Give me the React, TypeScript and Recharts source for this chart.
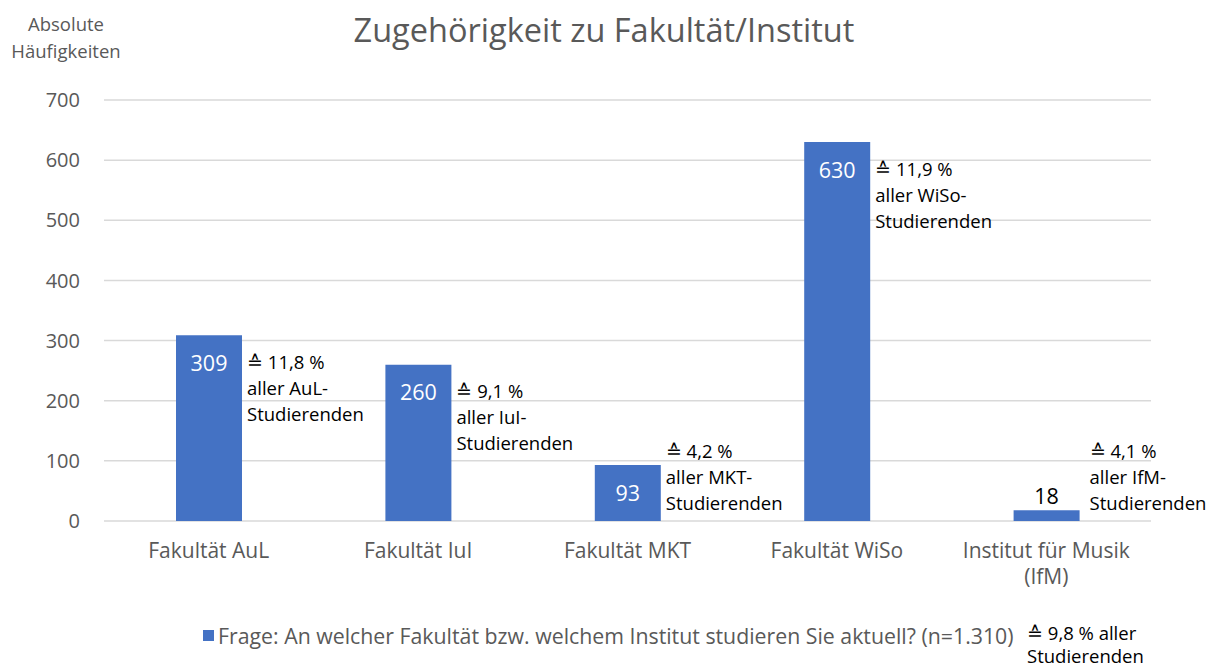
import React from 'react';
import { BarChart, Bar, XAxis, YAxis, CartesianGrid, Legend, LabelList } from 'recharts';

const categories = ['Fakultät AuL', 'Fakultät IuI', 'Fakultät MKT', 'Fakultät WiSo', 'Institut für Musik|(IfM)'];
const shortNames = ['AuL', 'IuI', 'MKT', 'WiSo', 'IfM'];
const counts = [309, 260, 93, 630, 18];
const shares = ['11,8 %', '9,1 %', '4,2 %', '11,9 %', '4,1 %'];
const yTicks = [0, 100, 200, 300, 400, 500, 600, 700];

const data = categories.map((c, i) => ({ name: c, count: counts[i], short: shortNames[i], share: shares[i] }));

const FONT = '"Open Sans", Lato, sans-serif';
const GREY = '#595959';
const BLUE = '#4472C4';

const CategoryTick = (props: any) => {
    const { x, y, payload } = props;
    const lines = String(payload.value).split('|');
    return (
        <text x={x} y={y} textAnchor="middle" fill={GREY} fontSize={21} fontFamily={FONT}>
            {lines.map((l, i) => (
                <tspan key={i} x={x} dy={i === 0 ? 29 : 26}>{l}</tspan>
            ))}
        </text>
    );
};

const CountLabel = (props: any) => {
    const { x, y, width, height, value } = props;
    const cx = x + width / 2;
    // kleine Balken: Wert oberhalb
    if (height < 30) {
        return <text x={cx} y={y - 14} dy="0.35em" textAnchor="middle" fill="#000" fontSize={21.5} fontFamily={FONT}>{value}</text>;
    }
    const ly = height > 100 ? y + 28 : y + height / 2;
    return <text x={cx} y={ly} dy="0.35em" textAnchor="middle" fill="#fff" fontSize={21.5} fontFamily={FONT}>{value}</text>;
};

const NoteLabel = (props: any) => {
    const { x, y, width, height, value } = props;
    const row = data.find((d) => d.short === value);
    if (!row) return null;
    const bottom = y + height;
    const y0 = Math.min(y + 27, bottom - 69);
    const lx = x + width + (height < 30 ? 10 : 5);
    return (
        <text x={lx} y={y0} fill="#000" fontSize={18.5} fontFamily={FONT}>
            <tspan x={lx} dy="0.35em">{'≙ ' + row.share}</tspan>
            <tspan x={lx} dy={26}>{'aller ' + row.short + '-'}</tspan>
            <tspan x={lx} dy={26}>Studierenden</tspan>
        </text>
    );
};

const LegendBox = () => (
    <div style={{ position: 'relative', width: 1212, height: 46, fontFamily: FONT }}>
        <div style={{ position: 'absolute', left: 203, top: 10, width: 11, height: 11, background: BLUE }} />
        <div style={{ position: 'absolute', left: 218, top: 2, fontSize: 21.3, color: GREY, lineHeight: '28px', whiteSpace: 'nowrap' }}>
            Frage: An welcher Fakultät bzw. welchem Institut studieren Sie aktuell? (n=1.310)
        </div>
        <div style={{ position: 'absolute', left: 1027, top: 1, fontSize: 18.5, color: '#000', lineHeight: '23px', whiteSpace: 'nowrap' }}>
            ≙ 9,8 % aller<br />Studierenden
        </div>
    </div>
);

export default function App() {
    return (
        <div style={{ position: 'absolute', left: 0, top: 0, width: 1212, height: 666, background: '#fff', fontFamily: FONT }}>
            <BarChart width={1212} height={666} data={data} margin={{ top: 100, right: 61, left: 14, bottom: 0 }}>
                <text x={604} y={31} dy="0.35em" textAnchor="middle" fill={GREY} fontSize={32.5} fontFamily={FONT}>
                    Zugehörigkeit zu Fakultät/Institut
                </text>
                <text x={66} y={25} dy="0.35em" textAnchor="middle" fill={GREY} fontSize={18.5} fontFamily={FONT}>
                    <tspan x={66}>Absolute</tspan>
                    <tspan x={66} dy={27}>Häufigkeiten</tspan>
                </text>
                <CartesianGrid vertical={false} stroke="#d9d9d9" strokeWidth={1.5} />
                <XAxis dataKey="name" axisLine={false} tickLine={false} height={99} interval={0} tick={<CategoryTick />} />
                <YAxis
                    domain={[0, 700]}
                    ticks={yTicks}
                    width={90}
                    axisLine={false}
                    tickLine={false}
                    tickSize={0}
                    tickMargin={24}
                    tick={{ fill: GREY, fontSize: 20, fontFamily: FONT }}
                />
                <Legend verticalAlign="bottom" content={<LegendBox />} wrapperStyle={{ left: 0, width: 1212 }} />
                <Bar dataKey="count" fill={BLUE} barSize={66} isAnimationActive={false} legendType="square">
                    <LabelList dataKey="count" content={<CountLabel />} />
                    <LabelList dataKey="short" content={<NoteLabel />} />
                </Bar>
            </BarChart>
        </div>
    );
}
